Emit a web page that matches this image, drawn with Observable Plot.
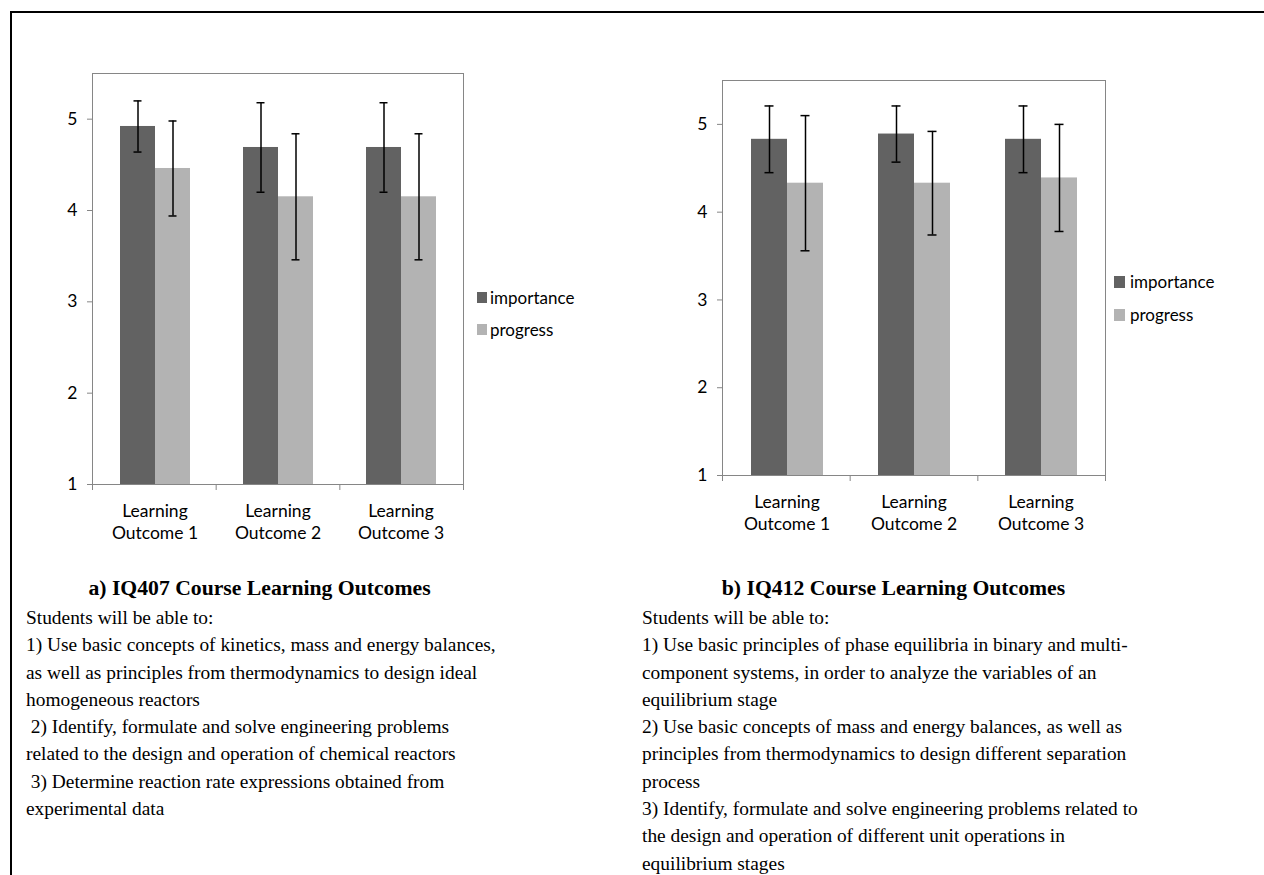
<!DOCTYPE html>
<html>
<head>
<meta charset="utf-8">
<script src="https://cdn.jsdelivr.net/npm/d3@7"></script>
<script src="https://cdn.jsdelivr.net/npm/@observablehq/plot@0.6"></script>
<style>
  body { margin: 0; background: #fff; width: 1264px; height: 875px; position: relative; overflow: hidden;
         font-family: "Liberation Serif", "Times New Roman", serif; color: #000; }
  #border { position: absolute; left: 10px; top: 11px; right: 0; bottom: 0;
            border-top: 2px solid #000; border-left: 2px solid #000; }
  .chart { position: absolute; }
  .chart svg { position: absolute; left: 0; top: 0; }
  .legend { position: absolute; font-family: Lato, sans-serif; font-size: 17px; color: #000; }
  .legend-row { display: flex; align-items: center; white-space: nowrap; }
  .swatch { display: inline-block; margin-right: 4px; }
  .col { position: absolute; }
  .title { font-weight: bold; font-size: 21.7px; line-height: 26px; text-align: center; margin-bottom: 3px; white-space: nowrap; }
  .line { font-size: 19.4px; line-height: 27.3px; white-space: pre; }
</style>
</head>
<body>
<div id="border"></div>
<div id="chartA" class="chart"></div>
<div id="chartB" class="chart"></div>
<div id="legendA" class="legend"></div>
<div id="legendB" class="legend"></div>
<div id="colA" class="col"></div>
<div id="colB" class="col"></div>
<script>
// ---------------- data ----------------
const categories = ["Learning\nOutcome 1", "Learning\nOutcome 2", "Learning\nOutcome 3"];
const series = ["importance", "progress"];
const seriesColors = ["#626262", "#b3b3b3"];
const yDomain = [1, 5.5];
const yTicks = [1, 2, 3, 4, 5];

// a) IQ407
const iq407Importance    = [4.92, 4.69, 4.69];
const iq407ImportanceErr = [0.28, 0.49, 0.49];
const iq407Progress      = [4.46, 4.15, 4.15];
const iq407ProgressErr   = [0.52, 0.69, 0.69];

// b) IQ412
const iq412Importance    = [4.83, 4.89, 4.83];
const iq412ImportanceErr = [0.38, 0.32, 0.38];
const iq412Progress      = [4.33, 4.33, 4.39];
const iq412ProgressErr   = [0.77, 0.59, 0.61];

const titleA = "a) IQ407 Course Learning Outcomes";
const linesA = [
  "Students will be able to:",
  "1) Use basic concepts of kinetics, mass and energy balances,",
  "as well as principles from thermodynamics to design ideal",
  "homogeneous reactors",
  " 2) Identify, formulate and solve engineering problems",
  "related to the design and operation of chemical reactors",
  " 3) Determine reaction rate expressions obtained from",
  "experimental data"
];
const titleB = "b) IQ412 Course Learning Outcomes";
const linesB = [
  "Students will be able to:",
  "1) Use basic principles of phase equilibria in binary and multi-",
  "component systems, in order to analyze the variables of an",
  "equilibrium stage",
  "2) Use basic concepts of mass and energy balances, as well as",
  "principles from thermodynamics to design different separation",
  "process",
  "3) Identify, formulate and solve engineering problems related to",
  "the design and operation of different unit operations in",
  "equilibrium stages"
];

// ---------------- drawing ----------------
function buildRows(imp, impErr, prog, progErr) {
  const rows = [];
  categories.forEach((c, i) => {
    rows.push({cat: c, series: series[0], value: imp[i], err: impErr[i]});
    rows.push({cat: c, series: series[1], value: prog[i], err: progErr[i]});
  });
  return rows;
}

function drawChart(el, rows, layout) {
  const common = {
    width: layout.width, height: layout.height,
    marginLeft: layout.ml, marginRight: layout.mr, marginTop: layout.mt, marginBottom: layout.mb,
    style: {background: "transparent", fontFamily: "Lato, sans-serif", fontSize: "17.5px", color: "#000", overflow: "visible"}
  };
  const bars = Plot.plot({
    ...common,
    fx: {domain: categories, padding: 0, label: null},
    x: {domain: series, paddingInner: 0, paddingOuter: 0.75, axis: null},
    y: {domain: yDomain, axis: null},
    color: {domain: series, range: seriesColors},
    marks: [
      Plot.barY(rows, {fx: "cat", x: "series", y1: yDomain[0], y2: "value", fill: "series"}),
      Plot.ruleX(rows, {fx: "cat", x: "series", y1: d => d.value - d.err, y2: d => d.value + d.err, stroke: "#000", strokeWidth: 1.5}),
      Plot.tickY(rows, {fx: "cat", x: "series", y: d => d.value - d.err, stroke: "#000", strokeWidth: 1.5, insetLeft: 13.5, insetRight: 13.5}),
      Plot.tickY(rows, {fx: "cat", x: "series", y: d => d.value + d.err, stroke: "#000", strokeWidth: 1.5, insetLeft: 13.5, insetRight: 13.5}),
      Plot.axisFx({anchor: "bottom", tickSize: 0, tickPadding: 16, lineHeight: 1.29, label: null, fill: "#000"})
    ]
  });
  const axes = Plot.plot({
    ...common,
    x: {domain: [0, categories.length], axis: null},
    y: {domain: yDomain, axis: null},
    marks: [
      Plot.frame({stroke: "#868686"}),
      Plot.axisX({ticks: d3.range(categories.length + 1), tickSize: 6, stroke: "#868686", fill: "none", label: null}),
      Plot.axisY({ticks: yTicks, tickFormat: d => String(d), tickSize: 5, tickPadding: 10, stroke: "#868686", fill: "#000", label: null})
    ]
  });
  el.style.left = layout.left + "px";
  el.style.top = layout.top + "px";
  el.style.width = layout.width + "px";
  el.style.height = layout.height + "px";
  el.appendChild(bars);
  el.appendChild(axes);
}

function drawLegend(el, pos) {
  el.style.left = pos.left + "px";
  el.style.top = pos.top + "px";
  series.forEach((s, i) => {
    const row = document.createElement("div");
    row.className = "legend-row";
    row.style.height = pos.rowH + "px";
    const sw = document.createElement("span");
    sw.className = "swatch";
    sw.style.width = pos.sw + "px";
    sw.style.height = pos.sh + "px";
    sw.style.background = seriesColors[i];
    sw.style.marginRight = pos.gap + "px";
    row.appendChild(sw);
    row.appendChild(document.createTextNode(s));
    el.appendChild(row);
  });
}

function drawText(el, title, lines, pos) {
  el.style.left = pos.left + "px";
  el.style.top = pos.top + "px";
  el.style.width = pos.width + "px";
  const t = document.createElement("div");
  t.className = "title";
  t.textContent = title;
  el.appendChild(t);
  lines.forEach(l => {
    const d = document.createElement("div");
    d.className = "line";
    d.textContent = l;
    el.appendChild(d);
  });
}

drawChart(document.getElementById("chartA"),
  buildRows(iq407Importance, iq407ImportanceErr, iq407Progress, iq407ProgressErr),
  {left: 30, top: 40, width: 450, height: 520, ml: 62, mr: 17, mt: 33, mb: 76});
drawChart(document.getElementById("chartB"),
  buildRows(iq412Importance, iq412ImportanceErr, iq412Progress, iq412ProgressErr),
  {left: 660, top: 47, width: 460, height: 520, ml: 62, mr: 15, mt: 33, mb: 92});

drawLegend(document.getElementById("legendA"), {left: 477, top: 281, rowH: 32.5, sw: 10, sh: 11, gap: 3});
drawLegend(document.getElementById("legendB"), {left: 1114, top: 265, rowH: 33.3, sw: 11, sh: 12, gap: 5});

drawText(document.getElementById("colA"), titleA, linesA, {left: 26, top: 575, width: 467});
drawText(document.getElementById("colB"), titleB, linesB, {left: 642, top: 575, width: 503});
</script>
</body>
</html>
